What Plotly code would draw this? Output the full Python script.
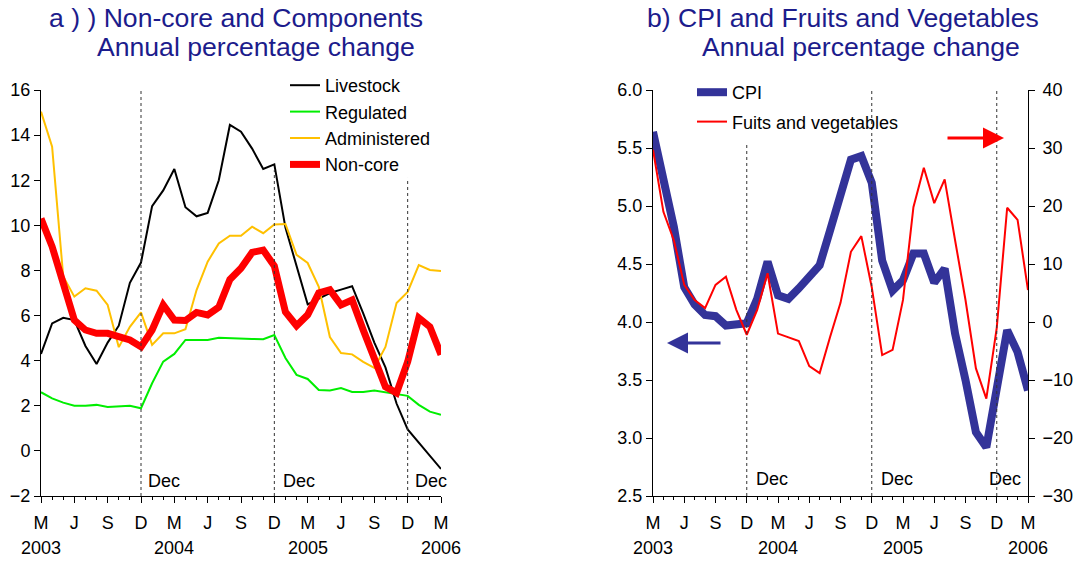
import plotly.graph_objects as go

# ---- data (month index 0 = Mar 2003 ... 36 = Mar 2006) ----
months = list(range(37))
tick_pos = list(range(0, 37, 3))
tick_text = ["M", "J", "S", "D"] * 3 + ["M"]
year_pos = [0, 12, 24, 36]
year_text = ["2003", "2004", "2005", "2006"]
dec_pos = [9, 21, 33]

livestock = [4.3, 5.65, 5.9, 5.8, 4.65, 3.85, 4.8, 5.55, 7.45, 8.35,
             10.85, 11.55, 12.5, 10.8, 10.4, 10.55, 12.0, 14.45, 14.15, 13.4,
             12.5, 12.7, 9.9, 8.2, 6.5, 6.75, 7.0, 7.15, 7.3, 6.1,
             4.8, 3.7, 2.1, 0.95, 0.35, -0.2, -0.8]
regulated = [2.6, 2.33, 2.14, 2.0, 2.0, 2.04, 1.95, 1.98, 2.0, 1.89,
             3.0, 3.96, 4.3, 4.92, 4.92, 4.92, 5.02, 5.0, 4.95, 4.96,
             4.95, 5.14, 4.12, 3.37, 3.19, 2.7, 2.68, 2.79, 2.61, 2.61,
             2.68, 2.6, 2.53, 2.44, 2.04, 1.74, 1.6]
administered = [15.04, 13.49, 7.73, 6.84, 7.21, 7.1, 6.47, 4.6, 5.5, 6.14,
                4.7, 5.21, 5.21, 5.39, 7.13, 8.39, 9.2, 9.54, 9.54, 9.94,
                9.65, 10.04, 10.06, 8.69, 8.33, 7.27, 5.05, 4.34, 4.28, 3.95,
                3.68, 4.61, 6.56, 7.05, 8.24, 8.02, 7.98]
noncore = [10.3, 9.06, 7.43, 5.8, 5.36, 5.21, 5.21, 5.07, 4.92, 4.62,
           5.36, 6.47, 5.8, 5.78, 6.14, 6.03, 6.37, 7.6, 8.1, 8.8,
           8.9, 8.2, 6.16, 5.55, 6.03, 7.0, 7.14, 6.47, 6.69, 5.36,
           4.03, 2.84, 2.57, 3.95, 5.9, 5.5, 4.26]
cpi = [5.64, 5.25, 4.82, 4.30, 4.15, 4.06, 4.05, 3.97, 3.98, 3.99,
       4.2, 4.52, 4.23, 4.2, 4.29, 4.38, 4.49, 4.79, 5.07, 5.4,
       5.43, 5.2, 4.53, 4.27, 4.36, 4.59, 4.59, 4.34, 4.46, 3.9,
       3.5, 3.05, 2.92, 3.41, 3.93, 3.74, 3.41]
fruits_veg = [29.7, 19.0, 14.1, 6.4, 3.8, 2.4, 6.4, 7.8, 2.1, -2.2,
              2.1, 8.4, -2.0, -2.6, -3.3, -7.6, -8.8, -2.6, 3.3, 12.1,
              14.8, 6.0, -5.7, -4.8, 3.8, 19.8, 26.6, 20.5, 24.6, 14.1,
              3.8, -8.0, -13.2, -1.0, 19.7, 17.6, 5.5]

W, H = 1073, 561
TITLE_C = "#1c1c8c"
FONT = "Liberation Sans, Arial, sans-serif"
TFS = 26.6

def px(v):
    return v / W

def py(v):
    return (H - v) / H

fig = go.Figure()

# left panel
fig.add_trace(go.Scatter(x=months, y=livestock, name="Livestock", mode="lines",
                         line=dict(color="black", width=2), xaxis="x", yaxis="y", legend="legend"))
fig.add_trace(go.Scatter(x=months, y=regulated, name="Regulated", mode="lines",
                         line=dict(color="#00ee00", width=2), xaxis="x", yaxis="y", legend="legend"))
fig.add_trace(go.Scatter(x=months, y=administered, name="Administered", mode="lines",
                         line=dict(color="#ffc000", width=2), xaxis="x", yaxis="y", legend="legend"))
fig.add_trace(go.Scatter(x=months, y=noncore, name="Non-core", mode="lines",
                         line=dict(color="#ff0000", width=7), xaxis="x", yaxis="y", legend="legend"))

# right panel
fig.add_trace(go.Scatter(x=months, y=cpi, name="CPI", mode="lines",
                         line=dict(color="#333399", width=8), xaxis="x2", yaxis="y2",
                         legend="legend2", legendgroup="a"))
fig.add_trace(go.Scatter(x=months, y=fruits_veg, name="Fuits and vegetables", mode="lines",
                         line=dict(color="#ff0000", width=2), xaxis="x2", yaxis="y3",
                         legend="legend2", legendgroup="b"))

ydom = [py(496), py(90)]
xcommon = dict(range=[0, 36], tickmode="array", tickvals=tick_pos, ticktext=tick_text,
               ticks="outside", ticklen=6, tickcolor="black", showline=True, linecolor="black",
               linewidth=1, showgrid=False, zeroline=False, ticklabelstandoff=4,
               automargin=False,
               minor=dict(dtick=1, tick0=0, ticks="outside", ticklen=3, tickcolor="black"),
               tickfont=dict(size=18, color="black", family=FONT))
ycommon = dict(ticks="outside", ticklen=6, tickcolor="black", showline=True, linecolor="black",
               linewidth=1, showgrid=False, zeroline=False, automargin=False,
               tickfont=dict(size=18, color="black", family=FONT))

fig.update_layout(
    width=W, height=H, margin=dict(l=0, r=0, t=0, b=0, pad=0, autoexpand=False),
    paper_bgcolor="white", plot_bgcolor="white",
    font=dict(family=FONT, size=18, color="black"),
    xaxis=dict(domain=[px(41), px(441)], anchor="y", **xcommon),
    yaxis=dict(domain=ydom, anchor="x", range=[-2, 16], dtick=2, tick0=0, **ycommon),
    xaxis2=dict(domain=[px(653), px(1028)], anchor="y2", **xcommon),
    yaxis2=dict(domain=ydom, anchor="x2", range=[2.5, 6.0], dtick=0.5, tick0=0,
                tickformat=".1f", **ycommon),
    yaxis3=dict(overlaying="y2", anchor="x2", side="right", range=[-30, 40], dtick=10, tick0=0,
                ticklabelstandoff=4, **ycommon),
    yaxis4=dict(overlaying="y2", anchor="x2", side="right", range=[-30, 40], dtick=10, tick0=0,
                ticks="inside", ticklen=6, tickcolor="black", showticklabels=False,
                showline=False, showgrid=False, zeroline=False, automargin=False),
    legend=dict(x=px(285), y=py(67), xanchor="left", yanchor="top", bgcolor="rgba(0,0,0,0)",
                font=dict(size=18, color="black", family=FONT), tracegroupgap=0,
                itemwidth=30),
    legend2=dict(x=px(692), y=py(74), xanchor="left", yanchor="top", bgcolor="rgba(0,0,0,0)",
                 font=dict(size=18, color="black", family=FONT), tracegroupgap=3,
                 itemwidth=30),
    showlegend=True,
)

shapes = []
left_tops = [16, 12.45, 12.1]
right_tops = [5.53, 6.0, 6.0]
for d, t in zip(dec_pos, left_tops):
    shapes.append(dict(type="line", xref="x", yref="y", x0=d, x1=d, y0=-2, y1=t,
                       line=dict(color="#333333", width=1, dash="dot")))
for d, t in zip(dec_pos, right_tops):
    shapes.append(dict(type="line", xref="x2", yref="y2", x0=d, x1=d, y0=2.5, y1=t,
                       line=dict(color="#333333", width=1, dash="dot")))
fig.update_layout(shapes=shapes)

ann = []
# titles
ann.append(dict(text="a ) ) Non-core and Components", xref="paper", yref="paper",
                x=px(47), y=py(18), xanchor="left", yanchor="middle", showarrow=False,
                font=dict(size=TFS, color=TITLE_C, family=FONT)))
ann.append(dict(text="Annual percentage change", xref="paper", yref="paper",
                x=px(95), y=py(47), xanchor="left", yanchor="middle", showarrow=False,
                font=dict(size=TFS, color=TITLE_C, family=FONT)))
ann.append(dict(text="b) CPI and Fruits and Vegetables", xref="paper", yref="paper",
                x=px(645), y=py(18), xanchor="left", yanchor="middle", showarrow=False,
                font=dict(size=TFS, color=TITLE_C, family=FONT)))
ann.append(dict(text="Annual percentage change", xref="paper", yref="paper",
                x=px(700), y=py(47), xanchor="left", yanchor="middle", showarrow=False,
                font=dict(size=TFS, color=TITLE_C, family=FONT)))
# years
for xr in ["x", "x2"]:
    for p, t in zip(year_pos, year_text):
        ann.append(dict(text=t, xref=xr, yref="paper", x=p, y=py(548), xanchor="center",
                        yanchor="middle", showarrow=False, font=dict(size=18, color="black")))
# Dec labels
left_shift = [5, 7, 5]
for d, s in zip(dec_pos, left_shift):
    ann.append(dict(text="Dec", xref="x", yref="y", x=d, y=-1.33, xanchor="left", xshift=s,
                    yanchor="middle", showarrow=False, font=dict(size=18, color="black")))
right_shift = [7, 7, -10]
for d, s in zip(dec_pos, right_shift):
    ann.append(dict(text="Dec", xref="x2", yref="y2", x=d, y=2.65, xanchor="left", xshift=s,
                    yanchor="middle", showarrow=False, font=dict(size=18, color="black")))
# axis arrows
ann.append(dict(text="", xref="paper", yref="paper", x=px(667), y=py(343), ax=55, ay=0,
                showarrow=True, arrowhead=2, arrowsize=1.4, arrowwidth=3, arrowcolor="#333399"))
ann.append(dict(text="", xref="paper", yref="paper", x=px(1004), y=py(138), ax=-58, ay=0,
                showarrow=True, arrowhead=2, arrowsize=1.4, arrowwidth=3, arrowcolor="#ff0000"))
fig.update_layout(annotations=ann)

fig.write_html("out.html", config={"displayModeBar": False},
               post_script="document.body.style.margin='0px';")
